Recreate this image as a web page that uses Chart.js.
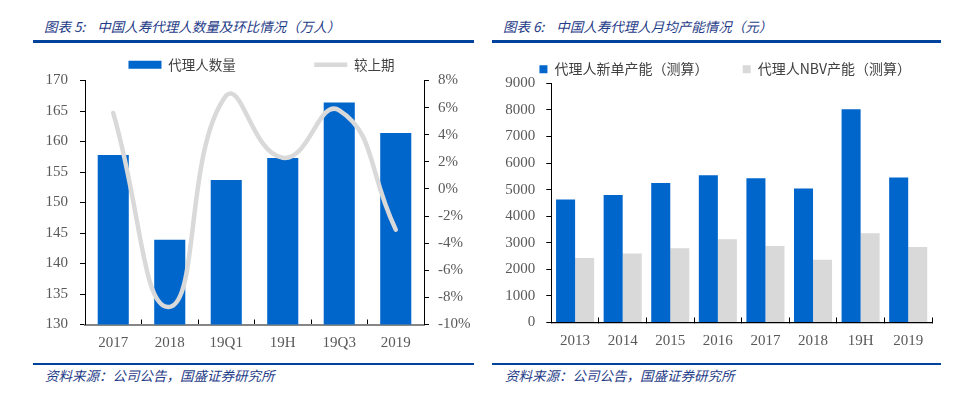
<!DOCTYPE html>
<html>
<head>
  <meta charset="utf-8">
  <title>中国人寿代理人</title>
  <script src="https://cdn.jsdelivr.net/npm/chart.js"></script>
  <style>
    body {
      margin: 0;
      width: 979px;
      height: 397px;
      background: #fff;
      position: relative;
      overflow: hidden;
      font-family: "Noto Sans CJK SC", sans-serif;
    }
    .title, .source {
      position: absolute;
      font-style: italic;
      font-size: 13.5px;
      line-height: 16px;
      color: #1f3c88;
      white-space: nowrap;
    }
    .rule {
      position: absolute;
      background: #00439c;
    }
    canvas {
      position: absolute;
    }
  </style>
</head>
<body>

<div class="title" style="left:44px; top:18px;">图表 5:&nbsp;&nbsp;&nbsp;&nbsp;中国人寿代理人数量及环比情况（万人）</div>
<div class="title" style="left:503px; top:18px;">图表 6:&nbsp;&nbsp;&nbsp;&nbsp;中国人寿代理人月均产能情况（元）</div>
<div class="rule" style="left:33px; top:40px; width:441px; height:3px;"></div>
<div class="rule" style="left:492px; top:40px; width:449px; height:3px;"></div>

<canvas id="agentChart" width="490" height="310" style="left:0px; top:50px;"></canvas>
<canvas id="prodChart" width="489" height="319" style="left:490px; top:41px;"></canvas>

<div class="rule" style="left:33px; top:363px; width:441px; height:2px;"></div>
<div class="rule" style="left:492px; top:363px; width:449px; height:2px;"></div>
<div class="source" style="left:45px; top:367px;">资料来源：公司公告，国盛证券研究所</div>
<div class="source" style="left:505px; top:367px;">资料来源：公司公告，国盛证券研究所</div>

<script>
  // 图表5 data
  const agentCats = ["2017", "2018", "19Q1", "19H", "19Q3", "2019"];
  const agentCount = [157.8, 143.9, 153.7, 157.3, 166.4, 161.4];   // 万人
  const agentChange = [5.6, -8.7, 6.9, 2.3, 5.8, -3.0];            // %

  // 图表6 data
  const prodCats = ["2013", "2014", "2015", "2016", "2017", "2018", "19H", "2019"];
  const newBizProd = [4630, 4800, 5250, 5540, 5430, 5040, 8020, 5455];
  const nbvProd = [2425, 2600, 2790, 3130, 2880, 2365, 3355, 2840];

  const BLUE = "#0066cc";
  const GRAY = "#d9d9d9";
  const tickFont = { family: "'Liberation Serif', serif", size: 15 };
  const tickColor = "#595959";
  const legendFont = { family: "'Noto Sans CJK SC', sans-serif", size: 13.5 };

  // legend in dataset order, first label padded so the second item sits further right
  function padLegend(pad) {
    return function (chart) {
      const items = Chart.defaults.plugins.legend.labels.generateLabels(chart);
      items.sort((a, b) => a.datasetIndex - b.datasetIndex);
      items[0].text = items[0].text + pad;
      return items;
    };
  }

  new Chart(document.getElementById("agentChart"), {
    type: "bar",
    data: {
      labels: agentCats,
      datasets: [
        {
          label: "代理人数量",
          data: agentCount,
          backgroundColor: BLUE,
          borderWidth: 0,
          barPercentage: 0.55,
          categoryPercentage: 1,
          pointStyle: "rect",
          yAxisID: "y",
          order: 1
        },
        {
          type: "line",
          label: "较上期",
          data: agentChange,
          borderColor: GRAY,
          backgroundColor: GRAY,
          borderWidth: 4.5,
          borderCapStyle: "round",
          tension: 0.5,
          pointRadius: 0,
          pointStyle: "line",
          fill: false,
          yAxisID: "y1",
          order: 0
        }
      ]
    },
    options: {
      responsive: false,
      animation: false,
      devicePixelRatio: 1,
      layout: { padding: { left: 33, right: 0, top: 0, bottom: 0 } },
      plugins: {
        tooltip: { enabled: false },
        legend: {
          position: "top",
          maxHeight: 30.5,
          labels: {
            usePointStyle: true,
            pointStyleWidth: 33,
            boxHeight: 8,
            padding: 8,
            color: "#404040",
            font: legendFont,
            generateLabels: padLegend("\u3000\u3000\u3000\u3000\u3000 ")
          }
        }
      },
      scales: {
        x: {
          afterFit: (s) => { s.height = 35.5; },
          grid: { drawOnChartArea: false, drawTicks: true, tickLength: -5, color: "#000" },
          border: { color: "#868686", width: 2 },
          ticks: { font: tickFont, color: tickColor, padding: 14.5 }
        },
        y: {
          position: "left",
          min: 130,
          max: 170,
          afterFit: (s) => { s.width = 52; },
          grid: { drawOnChartArea: false, tickLength: 5, color: "#000" },
          border: { color: "#000", width: 1 },
          ticks: { stepSize: 5, font: tickFont, color: tickColor, padding: 12 }
        },
        y1: {
          position: "right",
          min: -10,
          max: 8,
          afterFit: (s) => { s.width = 66; },
          grid: { drawOnChartArea: false, tickLength: 5, color: "#000" },
          border: { color: "#000", width: 1 },
          ticks: {
            stepSize: 2,
            font: tickFont,
            color: tickColor,
            padding: 9,
            callback: (v) => v + "%"
          }
        }
      }
    }
  });

  new Chart(document.getElementById("prodChart"), {
    type: "bar",
    data: {
      labels: prodCats,
      datasets: [
        {
          label: "代理人新单产能（测算）",
          data: newBizProd,
          backgroundColor: BLUE,
          borderWidth: 0,
          barPercentage: 1,
          categoryPercentage: 0.8
        },
        {
          label: "代理人NBV产能（测算）",
          data: nbvProd,
          backgroundColor: GRAY,
          borderWidth: 0,
          barPercentage: 1,
          categoryPercentage: 0.8
        }
      ]
    },
    options: {
      responsive: false,
      animation: false,
      devicePixelRatio: 1,
      layout: { padding: { left: 0, right: 47, top: 0.15, bottom: 0 } },
      plugins: {
        tooltip: { enabled: false },
        legend: {
          position: "top",
          align: "end",
          maxHeight: 42.15,
          labels: {
            boxWidth: 8,
            boxHeight: 8,
            padding: 21,
            color: "#404040",
            font: { family: "'Noto Sans CJK SC', sans-serif", size: 14 },
            generateLabels: padLegend("\u3000  ")
          }
        }
      },
      scales: {
        x: {
          afterFit: (s) => { s.height = 37.5; },
          grid: { drawOnChartArea: false, drawTicks: true, tickLength: -5, color: "#000" },
          border: { color: "#000", width: 1.3 },
          ticks: { font: tickFont, color: tickColor, padding: 14.5 }
        },
        y: {
          min: 0,
          max: 9000,
          afterFit: (s) => { s.width = 61.3; },
          grid: { drawOnChartArea: false, tickLength: 5, color: "#000" },
          border: { color: "#000", width: 1 },
          ticks: {
            stepSize: 1000,
            font: tickFont,
            color: tickColor,
            padding: 11,
            callback: (v) => String(v)
          }
        }
      }
    }
  });
</script>

</body>
</html>
